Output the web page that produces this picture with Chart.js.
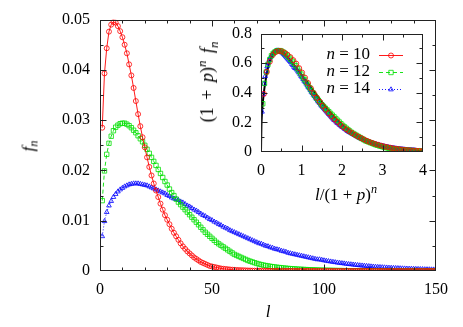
<!DOCTYPE html>
<html>
<head>
<meta charset="utf-8">
<script src="https://cdn.jsdelivr.net/npm/chart.js@4"></script>
<style>
  html, body { margin: 0; padding: 0; background: #fff; }
  #wrap { position: relative; width: 463px; height: 327px; font-family: "Liberation Serif", "DejaVu Serif", serif; color: #000; }
  #mainChart { position: absolute; left: 0; top: 0; }
  #insetChart { position: absolute; left: 190px; top: 15px; }
  .lbl { position: absolute; white-space: nowrap; font-size: 17px; line-height: 1; transform: translate(-50%, -50%); }
  .rot { transform: translate(-50%, -50%) rotate(-90deg); }
  .lbl sub, .lbl sup { font-size: 0.72em; line-height: 0; }
  .wide { font-size: 18px; word-spacing: 3px; }
</style>
</head>
<body>
<div id="wrap">
  <canvas id="mainChart" width="463" height="327"></canvas>
  <canvas id="insetChart" width="250" height="195"></canvas>
  <div class="lbl rot" style="left:28px; top:146px;"><i>f</i><sub><i>n</i></sub></div>
  <div class="lbl" style="left:268px; top:311px;"><i>l</i></div>
  <div class="lbl rot wide" style="left:207px; top:82px;">(1 + <i>p</i>)<sup><i>n</i></sup> <i>f</i><sub><i>n</i></sub></div>
  <div class="lbl" style="left:346px; top:194px;"><i>l</i>/(1 + <i>p</i>)<sup><i>n</i></sup></div>
</div>
<script>
document.addEventListener('DOMContentLoaded', function () {
    // cluster sizes l = 1..150
    const lValues = [
        1, 2, 3, 4, 5, 6, 7, 8, 9, 10, 11, 12, 13, 14, 15, 16, 17, 18, 19, 20,
        21, 22, 23, 24, 25, 26, 27, 28, 29, 30, 31, 32, 33, 34, 35, 36, 37, 38, 39, 40,
        41, 42, 43, 44, 45, 46, 47, 48, 49, 50, 51, 52, 53, 54, 55, 56, 57, 58, 59, 60,
        61, 62, 63, 64, 65, 66, 67, 68, 69, 70, 71, 72, 73, 74, 75, 76, 77, 78, 79, 80,
        81, 82, 83, 84, 85, 86, 87, 88, 89, 90, 91, 92, 93, 94, 95, 96, 97, 98, 99, 100,
        101, 102, 103, 104, 105, 106, 107, 108, 109, 110, 111, 112, 113, 114, 115, 116, 117, 118, 119, 120,
        121, 122, 123, 124, 125, 126, 127, 128, 129, 130, 131, 132, 133, 134, 135, 136, 137, 138, 139, 140,
        141, 142, 143, 144, 145, 146, 147, 148, 149, 150
    ];

    // f_n, n = 10
    const fn10 = [
        0.0285, 0.0393, 0.0443, 0.0476, 0.0490, 0.0495, 0.0494, 0.0487, 0.0477, 0.0465,
        0.0450, 0.0433, 0.0411, 0.0389, 0.0364, 0.0338, 0.0312, 0.0288, 0.0266, 0.0246,
        0.0226, 0.0207, 0.0190, 0.0174, 0.0160, 0.0147, 0.0134, 0.0122, 0.0111, 0.0102,
        0.0093, 0.0084, 0.0076, 0.0069, 0.0062, 0.0055, 0.0049, 0.0044, 0.0039, 0.0035,
        0.0031, 0.0027, 0.0024, 0.0021, 0.0018, 0.0016, 0.0014, 0.0012, 0.0010, 0.0009,
        0.0008, 0.0007, 0.0006, 0.0005, 0.00045, 0.0004, 0.00035, 0.0003, 0.00026, 0.00022,
        0.0002, 0.00018, 0.00016, 0.00014, 0.00012, 0.0001, 0.00009, 0.00008, 0.00007, 0.00006,
        0.00005, 0.00005, 0.00004, 0.00004, 0.00004, 0.00003, 0.00003, 0.00003, 0.00003, 0.00002,
        0.00002, 0.00002, 0.00002, 0.00002, 0.00002, 0.00001, 0.00001, 0.00001, 0.00001, 0.00001,
        0.00001, 0.00001, 0.00001, 0.00001, 0.00001, 0, 0, 0, 0, 0,
        0, 0, 0, 0, 0, 0, 0, 0, 0, 0,
        0, 0, 0, 0, 0, 0, 0, 0, 0, 0,
        0, 0, 0, 0, 0, 0, 0, 0, 0, 0,
        0, 0, 0, 0, 0, 0, 0, 0, 0, 0,
        0, 0, 0, 0, 0, 0, 0, 0, 0, 0
    ];

    // n = 12
    const fn12 = [
        0.0140, 0.0199, 0.0232, 0.0254, 0.0268, 0.0279, 0.0286, 0.0290, 0.0293, 0.0294,
        0.0294, 0.0292, 0.0289, 0.0285, 0.0280, 0.0275, 0.0269, 0.0263, 0.0257, 0.0250,
        0.0242, 0.0234, 0.0226, 0.0218, 0.0210, 0.0202, 0.0194, 0.0186, 0.0178, 0.0171,
        0.0163, 0.0156, 0.0150, 0.0143, 0.0137, 0.0132, 0.0127, 0.0122, 0.0117, 0.0112,
        0.0107, 0.0102, 0.0097, 0.0092, 0.0087, 0.0082, 0.0077, 0.0073, 0.0069, 0.0065,
        0.0061, 0.0057, 0.0054, 0.0051, 0.0048, 0.0045, 0.0042, 0.0039, 0.0036, 0.0033,
        0.0031, 0.0029, 0.0027, 0.0025, 0.0023, 0.0021, 0.00195, 0.0018, 0.00165, 0.0015,
        0.00138, 0.00127, 0.00117, 0.00108, 0.0010, 0.00093, 0.00086, 0.0008, 0.00074, 0.00069,
        0.00064, 0.00059, 0.00055, 0.00051, 0.00047, 0.00044, 0.00041, 0.00038, 0.00035, 0.00033,
        0.0003, 0.00028, 0.00026, 0.00024, 0.00022, 0.0002, 0.00019, 0.00017, 0.00016, 0.00015,
        0.00014, 0.00013, 0.00012, 0.00011, 0.0001, 0.00009, 0.00008, 0.00008, 0.00007, 0.00007,
        0.00006, 0.00006, 0.00005, 0.00005, 0.00005, 0.00004, 0.00004, 0.00004, 0.00003, 0.00003,
        0.00003, 0.00003, 0.00003, 0.00003, 0.00003, 0.00002, 0.00002, 0.00002, 0.00002, 0.00002,
        0.00002, 0.00002, 0.00002, 0.00002, 0.00002, 0.00001, 0.00001, 0.00001, 0.00001, 0.00001,
        0.00001, 0.00001, 0.00001, 0.00001, 0.00001, 0.00001, 0.00001, 0.00001, 0.00001, 0.00001
    ];

    // n = 14
    const fn14 = [
        0.0069, 0.0099, 0.0117, 0.0130, 0.0139, 0.0147, 0.0153, 0.0158, 0.0162, 0.0165,
        0.0168, 0.0170, 0.0172, 0.0173, 0.0174, 0.0174, 0.0174, 0.0173, 0.0172, 0.0171,
        0.0170, 0.0168, 0.0166, 0.0164, 0.0162, 0.0160, 0.0158, 0.0156, 0.0154, 0.0151,
        0.0149, 0.0146, 0.0144, 0.0143, 0.0141, 0.0138, 0.0136, 0.0133, 0.0130, 0.0128,
        0.0125, 0.0122, 0.0120, 0.0117, 0.0114, 0.0111, 0.0109, 0.0106, 0.0103, 0.0101,
        0.0098, 0.0096, 0.0093, 0.0091, 0.0088, 0.0086, 0.0084, 0.0081, 0.0079, 0.0077,
        0.0075, 0.0073, 0.0071, 0.0069, 0.0067, 0.0065, 0.0063, 0.0061, 0.0059, 0.0057,
        0.0055, 0.0054, 0.0052, 0.0050, 0.0049, 0.0047, 0.0046, 0.0044, 0.0043, 0.0042,
        0.0040, 0.0039, 0.0038, 0.0036, 0.0035, 0.0034, 0.0033, 0.0032, 0.0031, 0.0030,
        0.0029, 0.0028, 0.0027, 0.0026, 0.0025, 0.0024, 0.0023, 0.0023, 0.0022, 0.0021,
        0.00202, 0.00194, 0.00187, 0.0018, 0.00173, 0.00166, 0.0016, 0.00154, 0.00148, 0.00142,
        0.00136, 0.00131, 0.00126, 0.00121, 0.00116, 0.00111, 0.00107, 0.00103, 0.00099, 0.00095,
        0.00089, 0.00086, 0.00082, 0.00079, 0.00076, 0.00073, 0.0007, 0.00067, 0.00064, 0.00062,
        0.00059, 0.00057, 0.00055, 0.00052, 0.0005, 0.00048, 0.00046, 0.00044, 0.00043, 0.00041,
        0.00039, 0.00038, 0.00036, 0.00035, 0.00033, 0.00032, 0.00031, 0.00029, 0.00028, 0.00027
    ];

    // scaling function drawn as the black line in the inset
    const scaledX = [0, 0.01, 0.02, 0.04, 0.07, 0.1, 0.15, 0.2, 0.3, 0.4, 0.5, 0.6, 0.7, 0.8, 0.9, 1.0,
        1.1, 1.2, 1.3, 1.4, 1.5, 1.6, 1.7, 1.8, 1.9, 2.0, 2.2, 2.4, 2.6, 2.8, 3.0, 3.2, 3.4, 3.6, 3.8, 4.0];
    const scaledY = [0, 0.17, 0.24, 0.32, 0.40, 0.46, 0.54, 0.60, 0.665, 0.683, 0.678, 0.655, 0.625, 0.592, 0.556, 0.522,
        0.486, 0.449, 0.412, 0.376, 0.34, 0.305, 0.272, 0.241, 0.212, 0.185, 0.14, 0.104, 0.076, 0.055, 0.039, 0.027, 0.019, 0.013, 0.009, 0.006];

    const p = 0.3;
    const nValues = [10, 12, 14];
    const xTicksMain = [0, 50, 100, 150];
    const yTicksMain = [0, 0.01, 0.02, 0.03, 0.04, 0.05];
    const xTicksInset = [0, 1, 2, 3, 4];
    const yTicksInset = [0, 0.2, 0.4, 0.6, 0.8];

    const RED = '#ff0000', GREEN = '#00e000', BLUE = '#0000ff';
    const tickFont = { family: '"Liberation Serif", "DejaVu Serif", serif', size: 16 };

    // box + inward ticks on all four sides, gnuplot style
    const frameTicks = {
        id: 'frameTicks',
        afterDraw(chart, args, o) {
            const { ctx, chartArea: a, scales: { x, y } } = chart;
            ctx.save();
            ctx.strokeStyle = '#222';
            ctx.lineWidth = 1;
            const L = Math.round(a.left) + 0.5, R = Math.round(a.right) - 0.5;
            const T = Math.round(a.top) + 0.5, B = Math.round(a.bottom) - 0.5;
            ctx.strokeRect(L, T, R - L, B - T);
            ctx.beginPath();
            let n = Math.round((x.max - x.min) / o.xMinor);
            for (let i = 1; i < n; i++) {
                const v = x.min + i * o.xMinor;
                const len = Math.abs(v / o.xMajor - Math.round(v / o.xMajor)) < 1e-6 ? 6 : 3;
                const px = Math.round(x.getPixelForValue(v)) + 0.5;
                ctx.moveTo(px, B); ctx.lineTo(px, B - len);
                ctx.moveTo(px, T); ctx.lineTo(px, T + len);
            }
            n = Math.round((y.max - y.min) / o.yMinor);
            for (let i = 1; i < n; i++) {
                const v = y.min + i * o.yMinor;
                const len = Math.abs(v / o.yMajor - Math.round(v / o.yMajor)) < 1e-6 ? 6 : 3;
                const py = Math.round(y.getPixelForValue(v)) + 0.5;
                ctx.moveTo(L, py); ctx.lineTo(L + len, py);
                ctx.moveTo(R, py); ctx.lineTo(R - len, py);
            }
            ctx.stroke();
            ctx.restore();
        }
    };

    function axisOpts(min, max, ticks, fmt, pad) {
        return {
            type: 'linear', min: min, max: max,
            afterBuildTicks: s => { s.ticks = ticks.map(v => ({ value: v })); },
            ticks: { font: tickFont, color: '#000', padding: pad, maxRotation: 0, autoSkip: false, callback: fmt },
            grid: { display: false, drawTicks: false },
            border: { display: false }
        };
    }

    const series = [
        { data: fn10, color: RED, style: 'circle', radius: 2.5, dash: [] },
        { data: fn12, color: GREEN, style: 'rect', radius: 3.1, dash: [4, 3] },
        { data: fn14, color: BLUE, style: 'triangle', radius: 2.7, dash: [1, 2] }
    ];

    // main plot
    const mainX = axisOpts(0, 150, xTicksMain, v => String(v), 9);
    mainX.afterFit = s => { s.height = 56; };
    const mainY = axisOpts(0, 0.05, yTicksMain, v => v === 0 ? '0' : v.toFixed(2), 10);
    mainY.afterFit = s => { s.width = 100; };

    new Chart(document.getElementById('mainChart'), {
        type: 'line',
        data: {
            labels: lValues,
            datasets: series.map(s => ({
                data: s.data,
                borderColor: s.color,
                borderWidth: 0.9,
                borderDash: s.dash,
                pointStyle: s.style,
                pointRadius: s.radius,
                pointBorderWidth: 0.8,
                pointBorderColor: s.color,
                pointBackgroundColor: 'rgba(0,0,0,0)',
                tension: 0
            }))
        },
        options: {
            responsive: false,
            animation: false,
            layout: { padding: { top: 18, right: 27, left: 0, bottom: 0 } },
            plugins: {
                legend: { display: false },
                tooltip: { enabled: false },
                frameTicks: { xMinor: 10, xMajor: 50, yMinor: 0.005, yMajor: 0.01 }
            },
            scales: { x: mainX, y: mainY }
        },
        plugins: [frameTicks]
    });

    // inset: collapsed data
    const insetLegend = {
        id: 'insetLegend',
        afterDraw(chart) {
            const { ctx, chartArea: a } = chart;
            ctx.save();
            series.forEach((s, i) => {
                const y = a.top + 21 + i * 17;
                const right = a.left + 109;
                ctx.fillStyle = '#000';
                ctx.textBaseline = 'middle';
                ctx.textAlign = 'right';
                ctx.font = '17px "Liberation Serif", serif';
                const rest = ' = ' + nValues[i];
                ctx.fillText(rest, right, y);
                const w = ctx.measureText(rest).width;
                ctx.font = 'italic 17px "Liberation Serif", serif';
                ctx.fillText('n', right - w, y);
                ctx.strokeStyle = s.color;
                ctx.lineWidth = 0.9;
                ctx.setLineDash(s.dash);
                ctx.beginPath();
                ctx.moveTo(a.left + 118, Math.round(y) + 0.5);
                ctx.lineTo(a.left + 142, Math.round(y) + 0.5);
                ctx.stroke();
                ctx.setLineDash([]);
                ctx.lineWidth = 0.8;
                ctx.fillStyle = 'rgba(0,0,0,0)';
                Chart.helpers.drawPoint(ctx, { pointStyle: s.style, radius: s.radius, borderWidth: 0.8, rotation: 0 }, a.left + 130, Math.round(y) + 0.5);
            });
            ctx.restore();
        }
    };

    const insetX = axisOpts(0, 4, xTicksInset, v => String(v), 9);
    insetX.afterFit = s => { s.height = 58; };
    const insetY = axisOpts(0, 0.8, yTicksInset, v => v === 0 ? '0' : v.toFixed(1), 9);
    insetY.afterFit = s => { s.width = 71; };

    const insetSets = series.map((s, i) => {
        const scale = Math.pow(1 + p, nValues[i]);
        return {
            data: lValues.map((l, k) => ({ x: l / scale, y: s.data[k] * scale })),
            showLine: false,
            borderColor: s.color,
            pointStyle: s.style,
            pointRadius: s.radius,
            pointBorderWidth: 0.8,
            pointBorderColor: s.color,
            pointBackgroundColor: 'rgba(0,0,0,0)'
        };
    });
    insetSets.push({
        data: scaledX.map((x, k) => ({ x: x, y: scaledY[k] })),
        showLine: true,
        borderColor: '#000',
        borderWidth: 2,
        pointRadius: 0,
        cubicInterpolationMode: 'monotone'
    });

    new Chart(document.getElementById('insetChart'), {
        type: 'scatter',
        data: { datasets: insetSets },
        options: {
            responsive: false,
            animation: false,
            layout: { padding: { top: 13, right: 17, left: 0, bottom: 0 } },
            plugins: {
                legend: { display: false },
                tooltip: { enabled: false },
                frameTicks: { xMinor: 0.5, xMajor: 1, yMinor: 0.1, yMajor: 0.2 }
            },
            scales: { x: insetX, y: insetY }
        },
        plugins: [frameTicks, insetLegend]
    });
});
</script>
</body>
</html>
